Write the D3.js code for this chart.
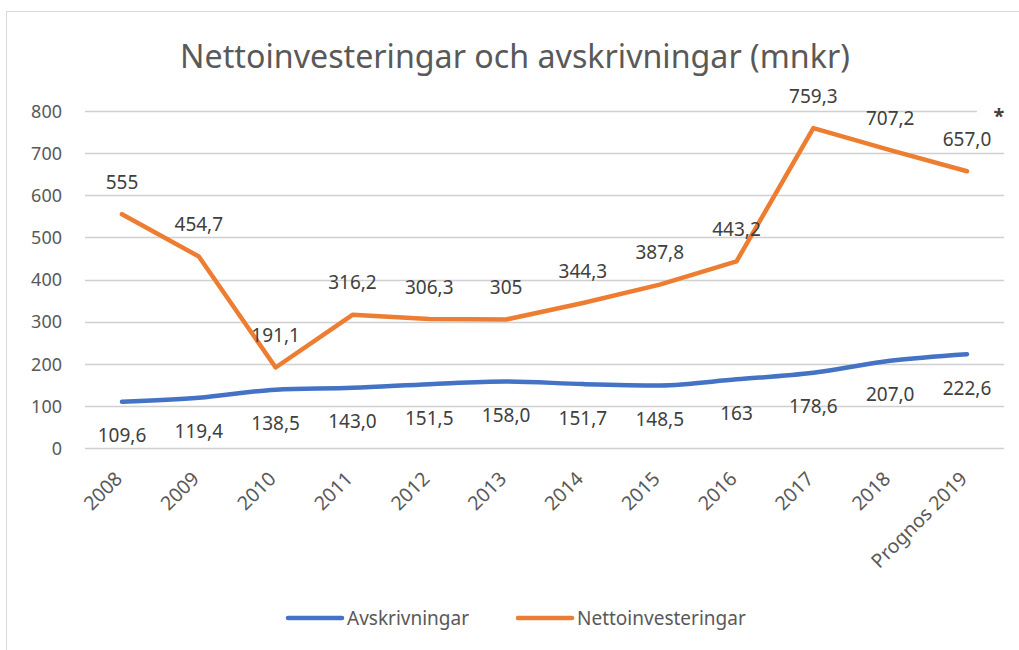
<!DOCTYPE html>
<html><head><meta charset="utf-8">
<script src="https://cdn.jsdelivr.net/npm/d3@7"></script>
<style>html,body{margin:0;padding:0;background:#fff;}svg{display:block;}</style>
</head><body>
<svg id="chart" width="1019" height="650"></svg>
<script>
const categories = ["2008","2009","2010","2011","2012","2013","2014","2015","2016","2017","2018","Prognos 2019"];
const avskrivningar = [109.6,119.4,138.5,143.0,151.5,158.0,151.7,148.5,163,178.6,207.0,222.6];
const avskrivningarLabels = ["109,6","119,4","138,5","143,0","151,5","158,0","151,7","148,5","163","178,6","207,0","222,6"];
const netto = [555,454.7,191.1,316.2,306.3,305,344.3,387.8,443.2,759.3,707.2,657.0];
const nettoLabels = ["555","454,7","191,1","316,2","306,3","305","344,3","387,8","443,2","759,3","707,2","657,0"];
const yTicks = [0,100,200,300,400,500,600,700,800];
const title = "Nettoinvesteringar och avskrivningar (mnkr)";
const seriesNames = ["Avskrivningar","Nettoinvesteringar"];

const svg = d3.select("#chart");
const font = "'Noto Sans', 'Open Sans', sans-serif";
const gray = "#595959";
const blue = "#4472C4", orange = "#ED7D31";

svg.append("rect").attr("x",6.5).attr("y",11.5).attr("width",1100).attr("height",1000)
  .attr("fill","#fff").attr("stroke","#d9d9d9").attr("stroke-width",1);

const x = d3.scalePoint().domain(categories).range([122,967]);
const y = d3.scaleLinear().domain([0,800]).range([448,111]);

// gridlines
svg.append("g").selectAll("line").data(yTicks).join("line")
  .attr("x1",85).attr("x2",1004)
  .attr("y1",d=>Math.round(y(d))+0.5).attr("y2",d=>Math.round(y(d))+0.5)
  .attr("stroke","#d0d0d0").attr("stroke-width",1.3);

// y axis labels
const yAxis = d3.axisLeft(y).tickValues(yTicks).tickSize(0).tickPadding(0).tickFormat(d3.format("d"));
const gy = svg.append("g").attr("transform","translate(62,0)").call(yAxis);
gy.select(".domain").remove();
gy.selectAll("text").attr("font-family",font).attr("font-size",18).attr("fill",gray).attr("dy","0.35em");

// x axis labels
const xAxis = d3.axisBottom(x).tickSize(0).tickPadding(0);
const gx = svg.append("g").call(xAxis);
gx.select(".domain").remove();
gx.selectAll(".tick text")
  .attr("font-family",font).attr("font-size",19.5).attr("fill",gray)
  .attr("text-anchor","end").attr("dy",0).attr("y",0)
  .attr("transform","translate(1,480) rotate(-45)");

// lines
const lineB = d3.line().x((d,i)=>x(categories[i])).y(d=>y(d)).curve(d3.curveMonotoneX);
svg.append("path").datum(avskrivningar).attr("d",lineB)
  .attr("fill","none").attr("stroke",blue).attr("stroke-width",4.5).attr("stroke-linecap","round").attr("stroke-linejoin","round");
const lineO = d3.line().x((d,i)=>x(categories[i])).y(d=>y(d));
svg.append("path").datum(netto).attr("d",lineO)
  .attr("fill","none").attr("stroke",orange).attr("stroke-width",4.5).attr("stroke-linecap","round").attr("stroke-linejoin","round");

// data labels
svg.append("g").selectAll("text").data(avskrivningar).join("text")
  .attr("x",(d,i)=>x(categories[i])).attr("y",d=>y(d)+34)
  .attr("dy","0.35em").attr("text-anchor","middle")
  .attr("font-family",font).attr("font-size",19).attr("fill","#404040")
  .text((d,i)=>avskrivningarLabels[i]);
svg.append("g").selectAll("text").data(netto).join("text")
  .attr("x",(d,i)=>x(categories[i])).attr("y",d=>y(d)-32)
  .attr("dy","0.35em").attr("text-anchor","middle")
  .attr("font-family",font).attr("font-size",19).attr("fill","#404040")
  .text((d,i)=>nettoLabels[i]);

// asterisk
svg.append("rect").attr("x",977).attr("y",100).attr("width",40).attr("height",20).attr("fill","#fff");
svg.append("text").attr("x",999).attr("y",111).attr("dy","0.6em").attr("text-anchor","middle")
  .attr("font-family",font).attr("font-size",20).attr("font-weight","bold").attr("fill","#404040").text("*");

// title
const t = svg.append("text").attr("x",515).attr("y",57).attr("dy","0.35em").attr("text-anchor","middle")
  .attr("font-family",font).attr("font-size",30).attr("fill",gray).text(title);
const w = t.node().getComputedTextLength();
t.attr("font-size", 30*670/w);

// legend
const legend = [{name:seriesNames[0],color:blue,x:288},{name:seriesNames[1],color:orange,x:518}];
const lg = svg.append("g").selectAll("g").data(legend).join("g");
lg.append("line").attr("x1",d=>d.x).attr("x2",d=>d.x+54).attr("y1",618).attr("y2",618)
  .attr("stroke",d=>d.color).attr("stroke-width",4.5).attr("stroke-linecap","round");
lg.append("text").attr("x",d=>d.x+59).attr("y",618).attr("dy","0.35em")
  .attr("font-family",font).attr("font-size",19).attr("fill",gray).text(d=>d.name);
</script>
</body></html>
